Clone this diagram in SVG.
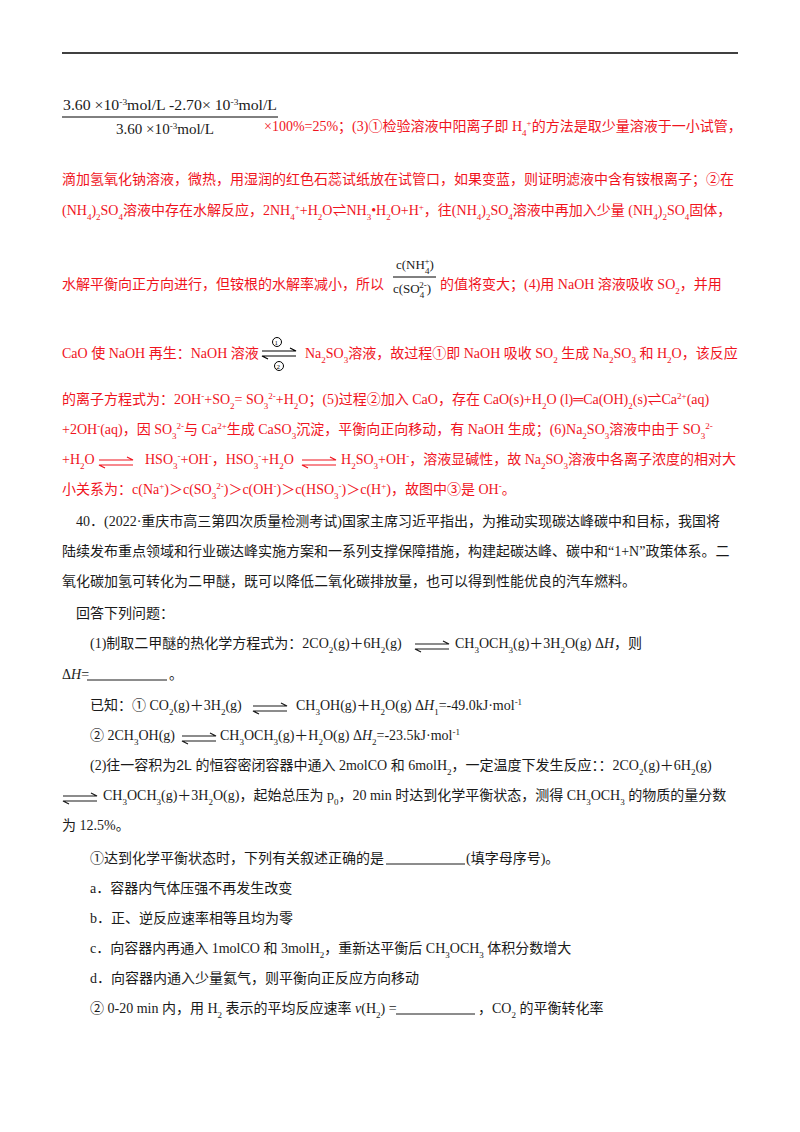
<svg xmlns="http://www.w3.org/2000/svg" width="800" height="1132" viewBox="0 0 800 1132">
<style>
text{font-family:"Liberation Serif","Noto Sans CJK SC",serif;font-size:14px}
.r{fill:#f0141e}
.k{fill:#1a1a1a}
.s{font-size:9px;baseline-shift:sub}
.p{font-size:9px;baseline-shift:super}
.f{font-size:13px;fill:#1a1a1a}
.g{font-size:15px;fill:#1a1a1a}
</style>
<defs>
<g id="eq" fill="none" stroke-width="1.2">
<path d="M0,-4 H34 L28,-7"/>
<path d="M34,1 H0 L6,4"/>
</g>
</defs>
<rect width="800" height="1132" fill="#fff"/>
<line x1="62" y1="53" x2="738" y2="53" stroke="#000" stroke-width="1.5"/>
<g id="frac1">
<text class="g" x="63" y="110" textLength="214" lengthAdjust="spacingAndGlyphs">3.60 ×10<tspan class="p">-3</tspan>mol/L -2.70× 10<tspan class="p">-3</tspan>mol/L</text>
<line x1="62" y1="117" x2="278" y2="117" stroke="#000"/>
<text class="g" x="116" y="134" textLength="98" lengthAdjust="spacingAndGlyphs">3.60 ×10<tspan class="p">-3</tspan>mol/L</text>
</g>
<g id="red">
<text class="r" x="264" y="131">×100%=25%；(3)①检验溶液中阳离子即 H<tspan class="s">4</tspan><tspan class="p">+</tspan>的方法是取少量溶液于一小试管，</text>
<text class="r" x="62" y="184">滴加氢氧化钠溶液，微热，用湿润的红色石蕊试纸放在试管口，如果变蓝，则证明滤液中含有铵根离子；②在</text>
<text class="r" x="62" y="215">(NH<tspan class="s">4</tspan>)<tspan class="s">2</tspan>SO<tspan class="s">4</tspan>溶液中存在水解反应，2NH<tspan class="s">4</tspan><tspan class="p">+</tspan>+H<tspan class="s">2</tspan>O⇌NH<tspan class="s">3</tspan>•H<tspan class="s">2</tspan>O+H<tspan class="p">+</tspan>，往(NH<tspan class="s">4</tspan>)<tspan class="s">2</tspan>SO<tspan class="s">4</tspan>溶液中再加入少量 (NH<tspan class="s">4</tspan>)<tspan class="s">2</tspan>SO<tspan class="s">4</tspan>固体，</text>
<text class="f" x="396" y="269">c(NH<tspan class="s">4</tspan><tspan class="p" dx="-5">+</tspan>)</text>
<line x1="393" y1="277" x2="436" y2="277" stroke="#000"/>
<text class="f" x="393" y="293">c(SO<tspan class="s">4</tspan><tspan class="p" dx="-5">2-</tspan>)</text>
<text class="r" x="62" y="289">水解平衡向正方向进行，但铵根的水解率减小，所以</text>
<text class="r" x="440" y="289">的值将变大；(4)用 NaOH 溶液吸收 SO<tspan class="s">2</tspan>，并用</text>
<text class="r" x="62" y="358">CaO 使 NaOH 再生：NaOH 溶液</text>
<g stroke="#000" fill="none">
<circle cx="277" cy="342" r="4.5"/><circle cx="279" cy="366" r="4.5"/>
<use href="#eq" x="262" y="355" stroke="#000"/>
</g>
<text x="274.5" y="345" style="font-size:7px">1</text>
<text x="276.5" y="369" style="font-size:7px">2</text>
<text class="r" x="305" y="358">Na<tspan class="s">2</tspan>SO<tspan class="s">3</tspan>溶液，故过程①即 NaOH 吸收 SO<tspan class="s">2</tspan> 生成 Na<tspan class="s">2</tspan>SO<tspan class="s">3</tspan> 和 H<tspan class="s">2</tspan>O，该反应</text>
<text class="r" x="62" y="404">的离子方程式为：2OH<tspan class="p">-</tspan>+SO<tspan class="s">2</tspan>=  SO<tspan class="s">3</tspan><tspan class="p">2-</tspan>+H<tspan class="s">2</tspan>O；(5)过程②加入 CaO，存在 CaO(s)+H<tspan class="s">2</tspan>O (l)═Ca(OH)<tspan class="s">2</tspan>(s)⇌Ca<tspan class="p">2+</tspan>(aq)</text>
<text class="r" x="62" y="434">+2OH<tspan class="p">-</tspan>(aq)，因 SO<tspan class="s">3</tspan><tspan class="p">2-</tspan>与 Ca<tspan class="p">2+</tspan>生成 CaSO<tspan class="s">3</tspan>沉淀，平衡向正向移动，有 NaOH 生成；(6)Na<tspan class="s">2</tspan>SO<tspan class="s">3</tspan>溶液中由于 SO<tspan class="s">3</tspan><tspan class="p">2-</tspan></text>
<text class="r" x="62" y="464">+H<tspan class="s">2</tspan>O</text>
<use href="#eq" x="99" y="464" stroke="#f0141e"/>
<text class="r" x="145" y="464">HSO<tspan class="s">3</tspan><tspan class="p">-</tspan>+OH<tspan class="p">-</tspan>，HSO<tspan class="s">3</tspan><tspan class="p">-</tspan>+H<tspan class="s">2</tspan>O</text>
<use href="#eq" x="302" y="464" stroke="#f0141e"/>
<text class="r" x="341" y="464">H<tspan class="s">2</tspan>SO<tspan class="s">3</tspan>+OH<tspan class="p">-</tspan>，溶液显碱性，故 Na<tspan class="s">2</tspan>SO<tspan class="s">3</tspan>溶液中各离子浓度的相对大</text>
<text class="r" x="62" y="494">小关系为：c(Na<tspan class="p">+</tspan>)＞c(SO<tspan class="s">3</tspan><tspan class="p">2-</tspan>)＞c(OH<tspan class="p">-</tspan>)＞c(HSO<tspan class="s">3</tspan><tspan class="p">-</tspan>)＞c(H<tspan class="p">+</tspan>)，故图中③是 OH<tspan class="p">-</tspan>。</text>
</g>
<g id="q40">
<text class="k" x="76" y="526">40．(2022·重庆市高三第四次质量检测考试)国家主席习近平指出，为推动实现碳达峰碳中和目标，我国将</text>
<text class="k" x="62" y="556">陆续发布重点领域和行业碳达峰实施方案和一系列支撑保障措施，构建起碳达峰、碳中和“1+N”政策体系。二</text>
<text class="k" x="62" y="586">氧化碳加氢可转化为二甲醚，既可以降低二氧化碳排放量，也可以得到性能优良的汽车燃料。</text>
<text class="k" x="76" y="618">回答下列问题：</text>
<text class="k" x="90" y="648">(1)制取二甲醚的热化学方程式为：2CO<tspan class="s">2</tspan>(g)＋6H<tspan class="s">2</tspan>(g)</text>
<use href="#eq" x="415" y="648" stroke="#1a1a1a"/>
<text class="k" x="455" y="648">CH<tspan class="s">3</tspan>OCH<tspan class="s">3</tspan>(g)＋3H<tspan class="s">2</tspan>O(g)  Δ<tspan font-style="italic">H</tspan>，则</text>
<text class="k" x="62" y="679">Δ<tspan font-style="italic">H</tspan>=</text>
<line x1="87" y1="680" x2="167" y2="680" stroke="#1a1a1a"/>
<text class="k" x="169" y="679">。</text>
<text class="k" x="90" y="710">已知：① CO<tspan class="s">2</tspan>(g)＋3H<tspan class="s">2</tspan>(g)</text>
<use href="#eq" x="253" y="710" stroke="#1a1a1a"/>
<text class="k" x="296" y="710">CH<tspan class="s">3</tspan>OH(g)＋H<tspan class="s">2</tspan>O(g)    Δ<tspan font-style="italic">H</tspan><tspan class="s">1</tspan>=-49.0kJ·mol<tspan class="p">-1</tspan></text>
<text class="k" x="90" y="740">② 2CH<tspan class="s">3</tspan>OH(g)</text>
<use href="#eq" x="182" y="740" stroke="#1a1a1a"/>
<text class="k" x="220" y="740">CH<tspan class="s">3</tspan>OCH<tspan class="s">3</tspan>(g)＋H<tspan class="s">2</tspan>O(g)    Δ<tspan font-style="italic">H</tspan><tspan class="s">2</tspan>=-23.5kJ·mol<tspan class="p">-1</tspan></text>
<text class="k" x="90" y="770">(2)往一容积为<tspan font-family="Liberation Sans">2L</tspan> 的恒容密闭容器中通入 2molCO 和 6molH<tspan class="s">2</tspan>，一定温度下发生反应：：2CO<tspan class="s">2</tspan>(g)＋6H<tspan class="s">2</tspan>(g)</text>
<use href="#eq" x="63" y="800" stroke="#1a1a1a"/>
<text class="k" x="103" y="800">CH<tspan class="s">3</tspan>OCH<tspan class="s">3</tspan>(g)＋3H<tspan class="s">2</tspan>O(g)，起始总压为 p<tspan class="s">0</tspan>，20 min 时达到化学平衡状态，测得 CH<tspan class="s">3</tspan>OCH<tspan class="s">3</tspan> 的物质的量分数</text>
<text class="k" x="62" y="830">为 12.5%。</text>
<text class="k" x="90" y="863">①达到化学平衡状态时，下列有关叙述正确的是</text>
<line x1="386" y1="864" x2="465" y2="864" stroke="#1a1a1a"/>
<text class="k" x="466" y="863">(填字母序号)。</text>
<text class="k" x="90" y="893">a．容器内气体压强不再发生改变</text>
<text class="k" x="90" y="923">b．正、逆反应速率相等且均为零</text>
<text class="k" x="90" y="953">c．向容器内再通入 1molCO 和 3molH<tspan class="s">2</tspan>，重新达平衡后 CH<tspan class="s">3</tspan>OCH<tspan class="s">3</tspan> 体积分数增大</text>
<text class="k" x="90" y="983">d．向容器内通入少量氦气，则平衡向正反应方向移动</text>
<text class="k" x="90" y="1013">② 0-20 min 内，用 H<tspan class="s">2</tspan> 表示的平均反应速率 <tspan font-style="italic">v</tspan>(H<tspan class="s">2</tspan>) =</text>
<line x1="396" y1="1014" x2="475" y2="1014" stroke="#1a1a1a"/>
<text class="k" x="478" y="1013">，CO<tspan class="s">2</tspan> 的平衡转化率</text>
</g>
</svg>
